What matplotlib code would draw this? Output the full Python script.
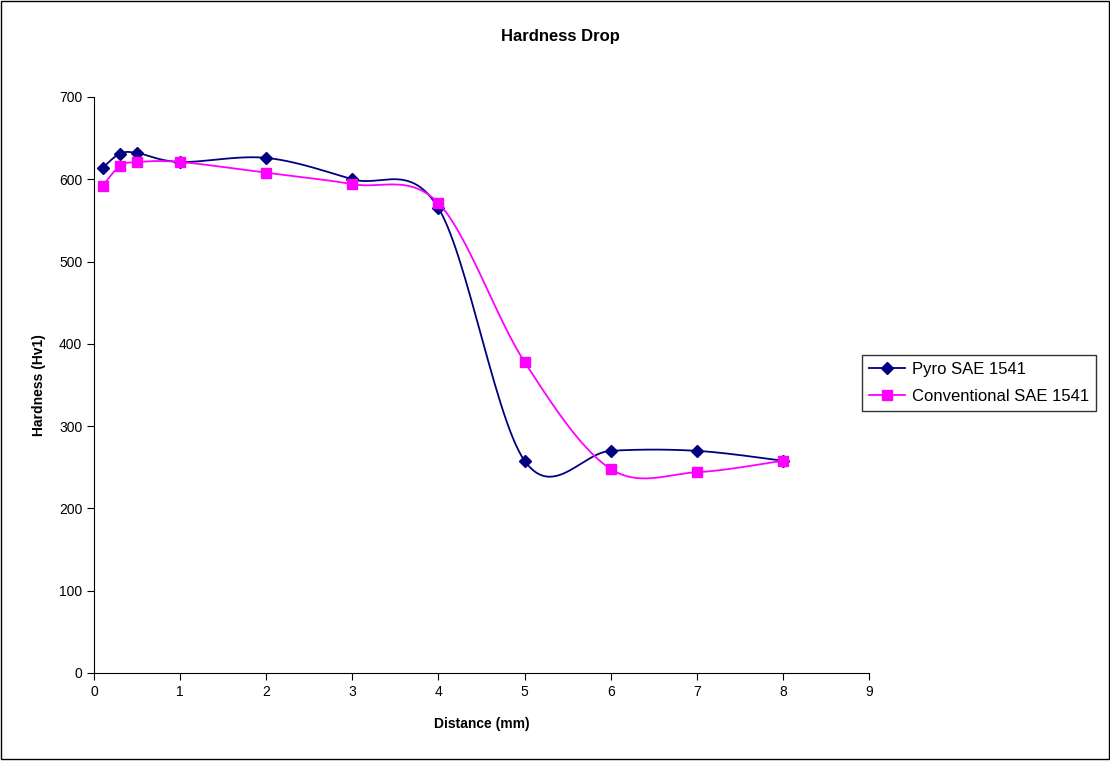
import numpy as np
import matplotlib.pyplot as plt
from matplotlib.patches import Rectangle

distance = [0.1, 0.3, 0.5, 1, 2, 3, 4, 5, 6, 7, 8]
pyro = [614, 631, 632, 621, 626, 600, 565, 258, 270, 270, 258]
conventional = [592, 616, 621, 621, 608, 594, 571, 378, 248, 244, 258]


def smooth(xs, ys, n=30):
    # Excel-like smoothed line: cubic Bezier through the points (Catmull-Rom control points)
    p = np.column_stack([xs, ys]).astype(float)
    p = np.vstack([p[0], p, p[-1]])
    out = []
    t = np.linspace(0, 1, n)[:, None]
    for i in range(1, len(p) - 2):
        p0, p1, p2, p3 = p[i - 1], p[i], p[i + 1], p[i + 2]
        c1 = p1 + (p2 - p0) / 6
        c2 = p2 - (p3 - p1) / 6
        seg = ((1 - t) ** 3) * p1 + 3 * ((1 - t) ** 2) * t * c1 + 3 * (1 - t) * t ** 2 * c2 + t ** 3 * p2
        out.append(seg)
    out = np.vstack(out)
    return out[:, 0], out[:, 1]


plt.rcParams['font.family'] = ['Liberation Sans', 'DejaVu Sans']

fig = plt.figure(figsize=(11.1, 7.61), dpi=100)
ax = fig.add_axes([94 / 1110, 1 - 673 / 761, 775 / 1110, 576 / 761])

navy = '#000080'
pink = '#FF00FF'

sx, sy = smooth(distance, pyro)
ax.plot(sx, sy, color=navy, lw=1.3)
ax.plot(distance, pyro, ls='none', marker='D', ms=6, color=navy)
ax.plot([], [], color=navy, lw=1.3, marker='D', ms=6, label='Pyro SAE 1541')

sx, sy = smooth(distance, conventional)
ax.plot(sx, sy, color=pink, lw=1.3)
ax.plot(distance, conventional, ls='none', marker='s', ms=7, color=pink)
ax.plot([], [], color=pink, lw=1.3, marker='s', ms=7, label='Conventional SAE 1541')

ax.set_xlim(0, 9)
ax.set_ylim(0, 700)
ax.set_xticks(range(0, 10))
ax.set_yticks(range(0, 701, 100))
ax.tick_params(direction='out', length=5, labelsize=10)
ax.spines['top'].set_visible(False)
ax.spines['right'].set_visible(False)
ax.set_xlabel('Distance (mm)', fontsize=10, fontweight='bold', labelpad=13)
ax.set_ylabel('Hardness (Hv1)', fontsize=10, fontweight='bold', labelpad=9)
fig.text(560 / 1110, 1 - 36 / 761, 'Hardness Drop', fontsize=12, fontweight='bold',
         ha='center', va='center')

ax.legend(loc='center left', bbox_to_anchor=(768 / 775, (673 - 383) / 576),
          frameon=True, fancybox=False, edgecolor='black', fontsize=12,
          handlelength=2.2, handletextpad=0.4, labelspacing=0.75,
          borderpad=0.4, borderaxespad=0)

fig.patches.append(Rectangle((0.5 / 1110, 2 / 761), 1 - 2 / 1110, 1 - 3 / 761,
                             transform=fig.transFigure, fill=False,
                             edgecolor='black', lw=1))

fig.savefig('out.png', dpi=100)
